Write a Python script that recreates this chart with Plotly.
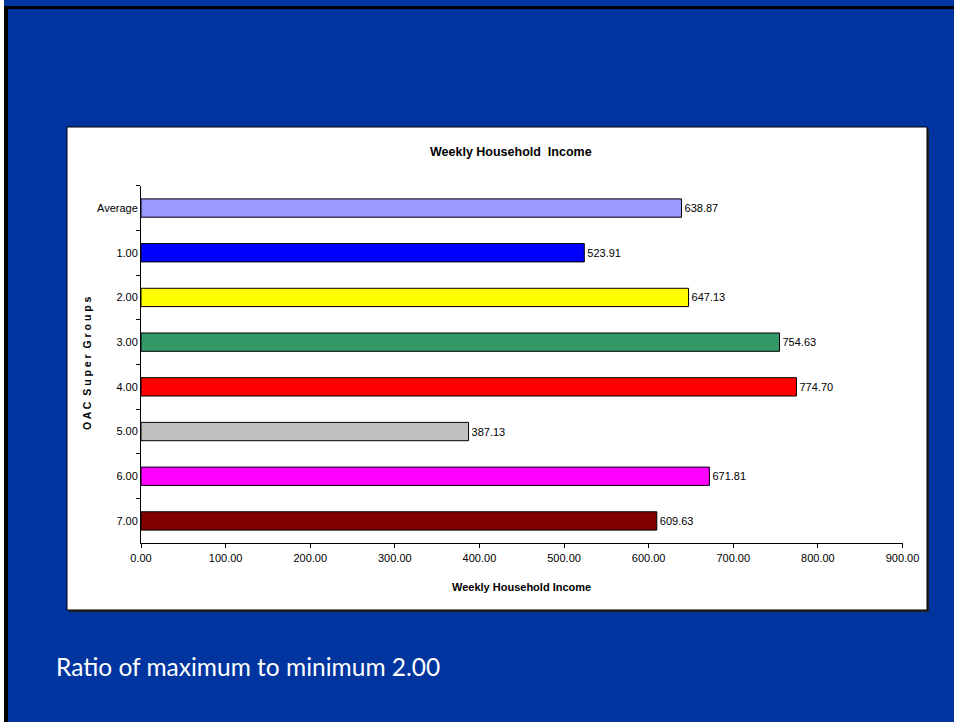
import plotly.graph_objects as go

categories = ["Average", "1.00", "2.00", "3.00", "4.00", "5.00", "6.00", "7.00"]
values = [638.87, 523.91, 647.13, 754.63, 774.70, 387.13, 671.81, 609.63]
colors = ["#9999FF", "#0000FF", "#FFFF00", "#339966", "#FF0000", "#C0C0C0", "#FF00FF", "#800000"]
x_ticks = [0, 100, 200, 300, 400, 500, 600, 700, 800, 900]
x_tick_labels = ["%.2f" % v for v in x_ticks]

W, H = 954, 722
BG = "#0035A0"
FONT = "Liberation Sans Narrow, Arial Narrow, Liberation Sans, Arial"

def px(x):
    return x / W

def py(y):
    return 1 - y / H

fig = go.Figure()
fig.add_trace(go.Bar(
    y=categories, x=values, orientation="h",
    marker=dict(color=colors, line=dict(color="black", width=1)),
    text=["%.2f" % v for v in values], textposition="outside",
    textfont=dict(family=FONT, size=11, color="black"),
    cliponaxis=False, width=0.41, hoverinfo="skip",
))

fig.update_layout(
    template="none",
    width=W, height=H, autosize=False,
    margin=dict(l=0, r=0, t=0, b=0, pad=0, autoexpand=False),
    paper_bgcolor=BG, plot_bgcolor="rgba(0,0,0,0)",
    showlegend=False,
    xaxis=dict(
        domain=[px(141), px(902.5)], range=[0, 900], automargin=False,
        tickvals=x_ticks, ticktext=x_tick_labels,
        tickfont=dict(family=FONT, size=11, color="black"),
        ticks="outside", ticklen=4, tickcolor="black", tickwidth=1,
        showline=True, linecolor="black", linewidth=1,
        showgrid=False, zeroline=False, fixedrange=True,
    ),
    yaxis=dict(
        domain=[py(543.3), py(185.7)], range=[7.5, -0.5], automargin=False,
        type="category",
        tickfont=dict(family=FONT, size=11, color="black"),
        ticks="outside", ticklen=4, tickcolor="black", tickwidth=1,
        tickson="boundaries",
        showline=True, linecolor="black", linewidth=1,
        showgrid=False, zeroline=False, fixedrange=True,
    ),
    shapes=[
        # slide border (white strip, black lines)
        dict(type="rect", xref="paper", yref="paper", x0=0, x1=px(4), y0=0, y1=1,
             fillcolor="white", line=dict(width=0), layer="below"),
        dict(type="rect", xref="paper", yref="paper", x0=px(4), x1=px(8), y0=0, y1=py(6),
             fillcolor="black", line=dict(width=0), layer="below"),
        dict(type="rect", xref="paper", yref="paper", x0=px(4), x1=1, y0=py(9), y1=py(6),
             fillcolor="black", line=dict(width=0), layer="below"),
        # chart shadow
        dict(type="rect", xref="paper", yref="paper", x0=px(69), x1=px(929), y0=py(612), y1=py(129),
             fillcolor="#222222", line=dict(width=0), layer="below"),
        # chart box
        dict(type="rect", xref="paper", yref="paper", x0=px(67), x1=px(927), y0=py(610), y1=py(127),
             fillcolor="white", line=dict(color="black", width=1), layer="below"),
    ],
    annotations=[
        dict(text="<b>Weekly Household  Income</b>", xref="paper", yref="paper",
             x=px(511), y=py(152), showarrow=False, xanchor="center", yanchor="middle",
             font=dict(family=FONT, size=12.5, color="black")),
        dict(text="<b>Weekly Household Income</b>", xref="paper", yref="paper",
             x=px(521), y=py(587), showarrow=False, xanchor="center", yanchor="middle",
             font=dict(family=FONT, size=11, color="black")),
        dict(text="<b>O A C  S u p e r  G r o u p s</b>", xref="paper", yref="paper",
             x=px(87), y=py(363), showarrow=False, textangle=-90,
             xanchor="center", yanchor="middle",
             font=dict(family=FONT, size=10.5, color="black")),
        dict(text="Ratio of maximum to minimum 2.00", xref="paper", yref="paper",
             x=px(54), y=py(666), showarrow=False, xanchor="left", yanchor="middle",
             font=dict(family="Lato, Open Sans, sans-serif", size=24.5, color="white")),
    ],
)

post = ("document.body.style.margin='0';document.body.style.padding='0';"
        "document.body.style.overflow='hidden';document.body.style.background='%s';" % BG)
fig.write_html("out.html", post_script=post, config={"responsive": False})
